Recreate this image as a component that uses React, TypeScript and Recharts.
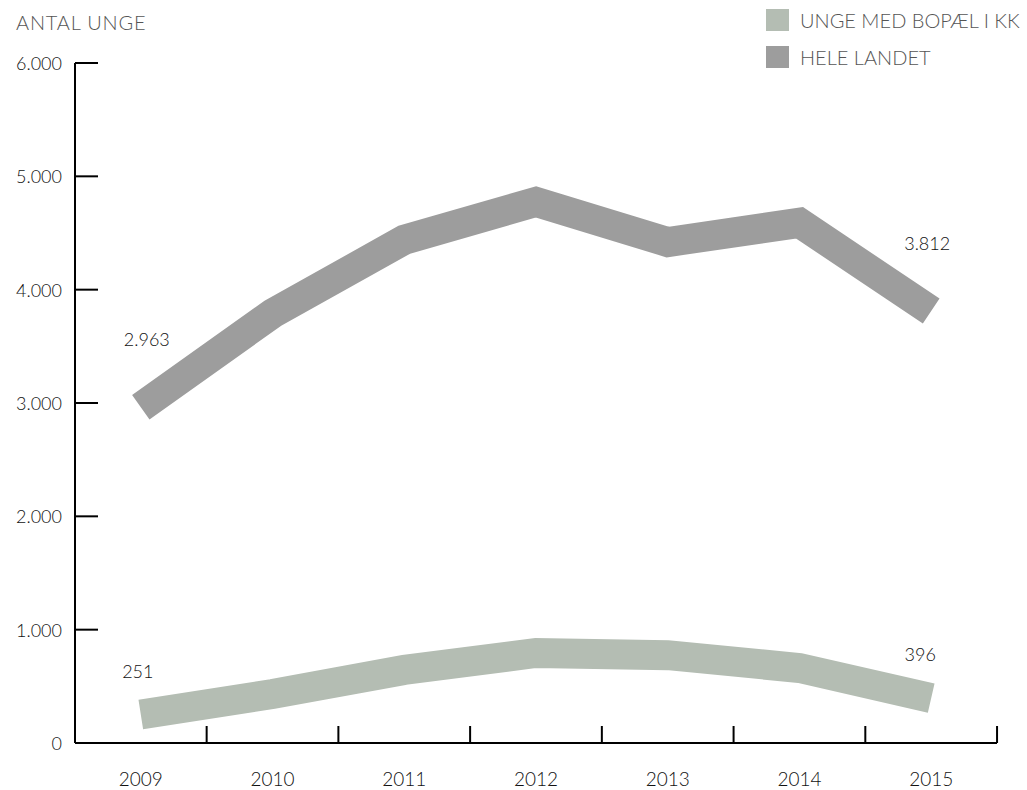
import { Line, LineChart, XAxis, YAxis } from 'recharts';

const years = ['2009', '2010', '2011', '2012', '2013', '2014', '2015'];
const heleLandet = [2963, 3790, 4440, 4775, 4420, 4590, 3812];
const ungeKK = [251, 432, 645, 795, 775, 662, 396];
const yTicks = [0, 1000, 2000, 3000, 4000, 5000, 6000];

const series = [
  { key: 'kk', name: 'UNGE MED BOPÆL I KK', color: '#b4bdb3' },
  { key: 'hele', name: 'HELE LANDET', color: '#9d9d9d' },
];

const data = years.map((year, i) => ({ year, kk: ungeKK[i], hele: heleLandet[i] }));

const FONT = 'Lato, "Open Sans", sans-serif';
const AXIS_X = 75;
const AXIS_Y = 743;
const STEP = 131.7;

const fmt = (v: number) => v.toLocaleString('da-DK');

function XTick({ x, payload }: any) {
  return (
    <g>
      <line x1={x + STEP / 2} x2={x + STEP / 2} y1={AXIS_Y} y2={AXIS_Y - 17} stroke="#000" strokeWidth={2} />
      <text x={x} y={AXIS_Y + 43} textAnchor="middle" fontSize={19} fontWeight={300} fill="#111" fontFamily={FONT}>
        {payload.value}
      </text>
    </g>
  );
}

function YTick({ y, payload }: any) {
  return (
    <g>
      <line x1={AXIS_X} x2={AXIS_X + 23} y1={y} y2={y} stroke="#000" strokeWidth={2} />
      <text x={62} y={y + 7} textAnchor="end" fontSize={18} fontWeight={300} fill="#111" fontFamily={FONT}>
        {fmt(payload.value)}
      </text>
    </g>
  );
}

const endLabel = (dy: number, dx0: number, dx1: number) => (props: any) => {
  const { x, y, index, value } = props;
  if (index !== 0 && index !== years.length - 1) return null;
  const dx = index === 0 ? dx0 : dx1;
  return (
    <text x={x + dx} y={y + dy} textAnchor="middle" fontSize={18} fontWeight={300} fill="#111" fontFamily={FONT}>
      {fmt(value)}
    </text>
  );
};

export default function App() {
  return (
    <div style={{ position: 'absolute', left: 0, top: 0, width: 1027, height: 790, background: '#fff', fontFamily: FONT }}>
      <div style={{ position: 'absolute', left: 16, top: 10, fontSize: 20, fontWeight: 300, color: '#555', letterSpacing: 0.8 }}>
        ANTAL UNGE
      </div>
      <div style={{ position: 'absolute', left: 766, top: 9 }}>
        {series.map((s) => (
          <div key={s.key} style={{ display: 'flex', alignItems: 'center', height: 22, marginBottom: 15 }}>
            <div style={{ width: 23, height: 22, background: s.color, marginRight: 11 }} />
            <span style={{ fontSize: 20, fontWeight: 300, color: '#555', whiteSpace: 'nowrap' }}>{s.name}</span>
          </div>
        ))}
      </div>
      <LineChart width={1027} height={790} data={data} margin={{ top: 63, right: 30, bottom: 0, left: 0 }}>
        <XAxis
          dataKey="year"
          padding={{ left: 65.8, right: 65.8 }}
          axisLine={{ stroke: '#000', strokeWidth: 2 }}
          tickLine={false}
          tick={<XTick />}
          height={47}
        />
        <YAxis
          domain={[0, 6000]}
          ticks={yTicks}
          width={75}
          axisLine={{ stroke: '#000', strokeWidth: 2 }}
          tickLine={false}
          tick={<YTick />}
        />
        <Line
          dataKey="kk"
          stroke={series[0].color}
          strokeWidth={30}
          strokeLinejoin="miter"
          strokeLinecap="butt"
          dot={false}
          isAnimationActive={false}
          label={endLabel(-37, -3, -11)}
        />
        <Line
          dataKey="hele"
          stroke={series[1].color}
          strokeWidth={30}
          strokeLinejoin="miter"
          strokeLinecap="butt"
          dot={false}
          isAnimationActive={false}
          label={endLabel(-61, 6, -4)}
        />
      </LineChart>
    </div>
  );
}
